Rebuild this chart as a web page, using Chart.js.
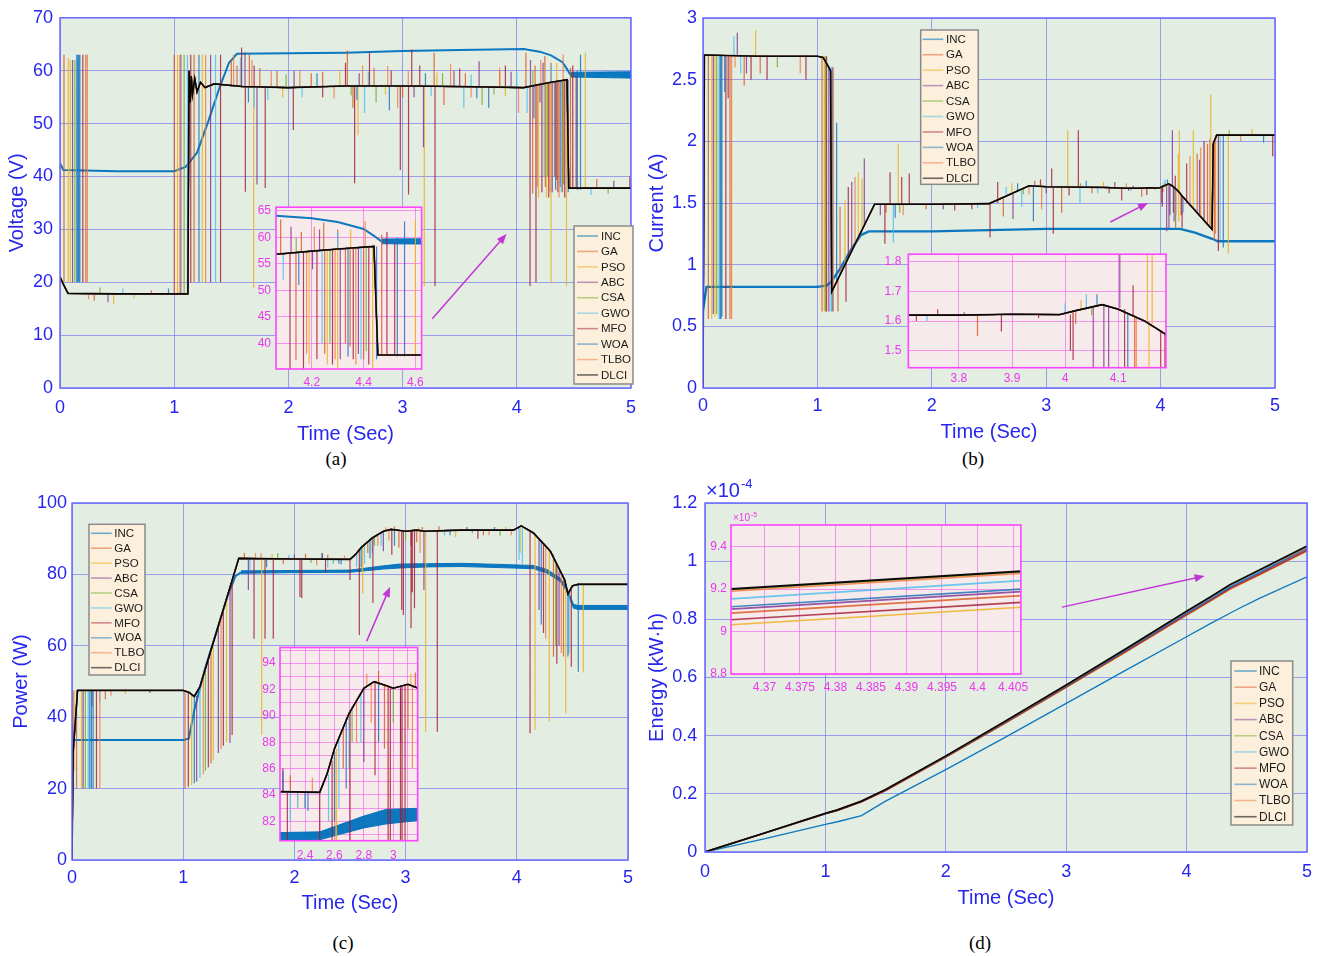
<!DOCTYPE html>
<html>
<head>
<meta charset="utf-8">
<title>MPPT comparison</title>
<script src="https://cdn.jsdelivr.net/npm/chart.js@4.4.1/dist/chart.umd.min.js"></script>
<style>
  body { margin: 0; background: #fff; }
  #page { position: relative; width: 1325px; height: 956px; overflow: hidden; }
  canvas { position: absolute; }
  .cap { position: absolute; width: 60px; margin-left: -30px; text-align: center;
         font: 19px "Liberation Serif", "Times New Roman", serif; color: #000; }
</style>
</head>
<body>
<div id="page">
  <canvas id="mainA" width="645" height="446" style="left:0;top:0"></canvas>
  <canvas id="mainB" width="680" height="444" style="left:645px;top:0"></canvas>
  <canvas id="mainC" width="645" height="445" style="left:0;top:470px"></canvas>
  <canvas id="mainD" width="680" height="440" style="left:645px;top:470px"></canvas>
  <canvas id="insetA" width="180" height="195" style="left:250px;top:195px"></canvas>
  <canvas id="insetB" width="300" height="150" style="left:875px;top:240px"></canvas>
  <canvas id="insetC" width="175" height="232" style="left:250px;top:636px"></canvas>
  <canvas id="insetD" width="335" height="200" style="left:700px;top:500px"></canvas>
  <div class="cap" style="left:336px;top:448px">(a)</div>
  <div class="cap" style="left:973px;top:448px">(b)</div>
  <div class="cap" style="left:343px;top:932px">(c)</div>
  <div class="cap" style="left:980px;top:932px">(d)</div>
</div>
<script>
// ---- series names / colours ----
const algoNames = ['INC', 'GA', 'PSO', 'ABC', 'CSA', 'GWO', 'MFO', 'WOA', 'TLBO', 'DLCI'];
const algoColors = ['rgba(0,114,189,0.95)', 'rgba(217,83,25,0.8)', 'rgba(237,177,32,0.85)',
  'rgba(126,47,142,0.8)', 'rgba(119,172,48,0.85)', 'rgba(77,190,238,0.85)', 'rgba(162,20,47,0.8)',
  'rgba(20,110,185,0.8)', 'rgba(240,120,60,0.8)', 'rgba(0,0,0,0.95)'];

const timeTicks = [0, 1, 2, 3, 4, 5];
const voltTicks = [0, 10, 20, 30, 40, 50, 60, 70];
const currTicks = [0, 0.5, 1, 1.5, 2, 2.5, 3];
const powTicks = [0, 20, 40, 60, 80, 100];
const energyTicks = [0, 0.2, 0.4, 0.6, 0.8, 1, 1.2];

// ---- (a) voltage [t, V]; spikes are [t, from, to] ----
const voltInc = [[0,42.5],[0.03,41.2],[0.5,41],[1.0,41],[1.1,41.8],[1.2,44.5],[1.3,50.5],[1.4,57],[1.48,61.5],[1.55,63.2],[2.0,63.3],[2.5,63.4],[3.0,63.7],[3.5,63.9],[4.06,64.1],[4.2,63.6],[4.3,62.9],[4.4,61.6],[4.44,60.3],[4.47,59.2]];
const voltIncHi = [[4.47,59.7],[5,59.8]];
const voltIncLo = [[4.47,58.8],[5,58.6]];
const voltDlci = [[0,21],[0.03,19.6],[0.07,17.9],[0.5,17.8],[1.12,17.8],[1.13,60],[1.14,54],[1.15,59],[1.16,55.5],[1.18,58.5],[1.2,56],[1.23,57.8],[1.27,56.8],[1.35,57.5],[1.6,57],[2.0,56.8],[2.5,57.1],[3.0,57.1],[3.5,57],[4.06,56.8],[4.2,57.4],[4.3,57.8],[4.44,58.3],[4.455,37.8],[5,37.8]];
const voltGA = [[0.035,20,63],[0.226,20,63],[1.0,17.8,63],[1.174,20,63],[1.5,57,62],[1.55,57,61],[1.658,57,63],[1.75,57,60.5],[1.9,57,60],[2.2,57,59.5],[2.3,57,59.8],[2.516,57,63.8],[2.565,57,53],[2.75,57,60.5],[3.0,57,55],[3.276,57,63.4],[3.362,57,53.5],[3.55,57,59.5],[3.85,57,60],[4.08,57,63.4],[4.139,57.3,36.8],[4.16,57.3,61],[4.246,57.6,62.8],[4.25,57.6,38],[4.3,57.8,61.5],[4.33,58,40],[4.348,58,39.4],[4.4,58.2,37],[4.47,37.8,60.5],[4.7,37.8,39.5],[0.3,17.8,16.5],[0.8,17.8,18.5]];
const voltPSO = [[0.072,20,62.5],[0.09,20,62],[1.029,17.8,63],[1.246,20,63],[1.696,57,18.8],[1.95,57,55],[2.45,57,60.2],[2.609,57,47.8],[2.85,57,55.5],[3.19,57,19.3],[3.3,57,59.6],[3.9,57,55.2],[4.19,57.4,36],[4.26,57.7,36],[4.3,57.8,19.8],[4.35,58,61.5],[4.435,58.3,19.3],[4.6,37.8,63.4],[0.47,17.8,15.8],[0.65,17.8,17]];
const voltABC = [[0.11,20,62],[1.058,17.8,63],[1.319,20,63],[1.62,57,63.5],[1.725,57,38.5],[2.05,57,60],[2.62,57,59.5],[3.1,57,55],[3.183,57,45.5],[3.45,57,60],[3.67,57,61.8],[3.95,57,59.8],[4.12,57.2,62],[4.203,57.5,54],[4.23,57.5,61.5],[4.31,57.9,37],[4.38,58.1,38],[0.42,17.8,16.2],[4.85,37.8,39.2]];
const voltCSA = [[0.13,20,62],[1.087,17.8,63],[1.98,57,59.3],[2.55,57,55.3],[2.768,57,54],[3.35,57,59.5],[3.696,57,53.5],[3.8,57,55.5],[4.14,57.3,60],[4.27,57.7,40],[4.41,58.2,38.5],[0.35,17.8,19],[4.8,37.8,36.8]];
const voltGWO = [[0.145,20,63],[1.116,17.8,63],[1.362,20,63],[1.58,57,62.5],[1.7,57,53],[1.82,57,54.5],[2.12,57,55],[2.667,57,52],[2.7,57,59.8],[3.25,57,55.2],[3.536,57,53],[3.6,57,59.3],[4.0,57,59.6],[4.09,57.2,52],[4.24,57.6,40],[4.3,57.8,61],[4.39,58.1,37],[0.55,17.8,18.8],[4.65,37.8,36.5]];
const voltMFO = [[0.2,20,63],[1.145,20,63],[1.406,20,63],[1.59,57,64.4],[1.623,57,37.1],[1.7,57,61],[1.797,57,37.8],[2.043,57,48.8],[2.3,57,55],[2.5,57,61.5],[2.58,57,38.7],[2.71,57,63.4],[2.9,57,60],[2.98,57,41.2],[3.052,57,36.6],[3.08,57,64],[3.15,57,61],[3.284,57,19.3],[3.5,57,60.4],[3.9,57,61],[4.116,57.2,19.3],[4.168,57.4,20],[4.22,57.5,37],[4.28,57.8,36],[4.36,58,37],[4.42,58.2,36],[4.49,37.8,61],[4.52,37.8,59],[4.99,37.8,40]];
const voltWOA = [[0.15,20,63],[0.158,20,63],[0.166,20,63],[0.174,20,63],[1.217,20,63],[1.65,57,54],[2.25,57,59.5],[2.6,57,54.5],[2.884,57,52.5],[3.2,57,59.5],[3.65,57,54.8],[3.754,57,53],[4.15,57.3,51],[4.34,57.9,37.5],[4.45,58.3,37],[4.53,37.5,60],[4.558,37.5,63],[0.95,17.8,18.8]];
const voltTLBO = [[0.24,20,63],[1.05,17.8,63],[1.275,20,63],[1.52,57,63],[1.68,57,62],[1.85,57,60],[2.1,57,60.2],[2.4,57,54.8],[2.65,57,61],[2.87,57,60.9],[2.957,57,53],[3.05,57,60],[3.42,57,61.3],[3.6,57,55],[3.85,57,60.6],[4.015,57,52],[4.18,57.4,38],[4.21,57.5,62],[4.29,57.8,37],[4.37,58.1,36],[4.406,58.2,63.1],[0.25,17.8,16.8]];

// ---- (b) current [t, A] ----
const currInc = [[0,0.63],[0.03,0.82],[1.0,0.82],[1.08,0.83],[1.12,0.86],[1.2,0.97],[1.3,1.13],[1.38,1.24],[1.45,1.27],[2.0,1.27],[2.5,1.28],[3.0,1.29],[3.5,1.29],[4.17,1.29],[4.3,1.26],[4.45,1.21],[4.5,1.19],[5,1.19]];
const currDlci = [[0,0],[0.012,2.7],[0.5,2.69],[1.0,2.69],[1.05,2.68],[1.1,2.6],[1.115,2.57],[1.125,0.78],[1.5,1.49],[2.0,1.49],[2.5,1.495],[2.55,1.515],[2.85,1.64],[3.0,1.632],[3.5,1.626],[3.7,1.62],[3.8,1.62],[3.9,1.623],[3.99,1.622],[4.02,1.635],[4.07,1.655],[4.1,1.64],[4.15,1.6],[4.19,1.555],[4.45,1.285],[4.46,1.98],[4.49,2.05],[5,2.05]];
const currGA = [[0.047,2.7,0.56],[0.236,2.7,0.56],[0.36,2.7,2.45],[0.5,2.7,2.55],[1.04,2.69,0.62],[1.18,0.88,0.62],[1.198,0.93,1.47],[1.6,1.49,1.42],[1.95,1.49,1.45],[2.625,1.55,1.39],[2.9,1.63,1.68],[3.135,1.63,1.42],[3.4,1.626,1.58],[3.835,1.62,1.55],[4.02,1.63,1.59],[4.131,1.62,1.3],[4.32,1.42,1.9],[4.41,1.33,1.98],[4.47,2.0,1.2]];
const currPSO = [[0.076,2.7,0.56],[0.105,2.7,0.58],[0.46,2.7,2.9],[1.06,2.69,0.62],[1.241,1.0,1.52],[1.358,1.23,1.75],[1.39,1.3,1.7],[1.707,1.49,1.98],[2.7,1.59,1.66],[3.188,1.63,2.09],[3.5,1.626,1.67],[4.03,1.635,1.67],[4.155,1.6,1.9],[4.158,1.6,1.35],[4.164,1.59,2.09],[4.286,1.45,2.09],[4.438,1.3,2.38],[4.592,2.05,1.09],[4.8,2.05,2.1]];
const currABC = [[0.09,2.7,0.6],[0.3,2.7,2.88],[0.38,2.7,2.55],[1.1,2.6,0.62],[1.3,1.12,1.67],[1.41,1.33,1.86],[1.55,1.49,1.4],[2.1,1.49,1.45],[2.71,1.58,1.37],[3.0,1.632,1.58],[3.6,1.624,1.67],[3.81,1.62,1.63],[4.053,1.645,1.27],[4.073,1.655,1.3],[4.082,1.65,1.4],[4.103,1.645,2.09],[4.34,1.4,1.85]];
const currCSA = [[0.12,2.7,0.6],[0.65,2.7,2.6],[1.07,2.69,0.62],[1.72,1.49,1.42],[2.8,1.62,1.57],[3.3,1.628,1.66],[4.05,1.645,1.62],[4.6,2.05,2.09]];
const currGWO = [[0.14,2.7,0.56],[0.27,2.7,2.85],[0.33,2.7,2.55],[1.12,2.6,0.62],[1.664,1.49,1.18],[2.4,1.49,1.46],[2.65,1.57,1.63],[2.786,1.61,1.47],[3.295,1.63,1.5],[3.45,1.626,1.58],[3.74,1.62,1.6],[4.0,1.625,1.66],[4.04,1.64,1.69],[4.2,1.545,1.42],[4.52,2.05,1.2]];
const currMFO = [[0.2,2.7,0.56],[0.22,2.7,2.35],[0.42,2.7,2.5],[0.56,2.7,2.5],[0.9,2.7,2.5],[1.08,2.69,0.62],[1.25,1.02,0.7],[1.27,1.06,1.63],[1.59,1.49,1.17],[1.635,1.49,1.75],[1.737,1.49,1.71],[1.803,1.49,1.74],[2.2,1.49,1.44],[2.35,1.49,1.45],[2.509,1.5,1.22],[2.576,1.5,1.67],[2.95,1.632,1.69],[3.048,1.63,1.78],[3.062,1.63,1.25],[3.2,1.63,1.56],[3.281,1.63,2.09],[3.55,1.625,1.58],[3.66,1.622,1.52],[3.72,1.62,1.6],[3.76,1.62,1.64],[3.88,1.622,1.565],[3.95,1.622,1.61],[4.01,1.622,1.5],[4.015,1.63,1.47],[4.112,1.64,1.42],[4.128,1.62,1.72],[4.18,1.57,1.4],[4.188,1.56,1.3],[4.228,1.5,1.82],[4.38,1.36,2.0],[4.505,2.05,1.11],[4.98,2.05,1.88]];
const currWOA = [[0.15,2.7,0.56],[0.158,2.7,0.56],[0.165,2.7,0.58],[0.19,2.7,2.4],[1.13,2.6,0.62],[1.168,0.86,2.15],[1.68,1.49,1.38],[2.75,1.6,1.66],[2.888,1.63,1.35],[3.35,1.627,1.68],[4.06,1.65,1.69],[4.118,1.63,1.35],[4.548,2.05,1.14],[4.9,2.05,1.99]];
const currTLBO = [[0.25,2.7,0.56],[0.28,2.7,2.6],[0.85,2.7,2.55],[1.14,2.6,0.62],[1.329,1.17,1.71],[1.75,1.49,1.4],[2.85,1.63,1.57],[2.96,1.625,1.45],[3.7,1.62,1.66],[4.134,1.61,1.4],[4.257,1.47,1.88],[4.35,1.39,1.95],[4.43,1.31,2.02],[4.48,2.05,1.25],[4.7,2.05,2.0]];

// ---- (c) power [t, W] ----
const powInc = [[0,38],[0.015,33.6],[1.0,33.6],[1.05,34],[1.1,42],[1.15,48],[1.2,54],[1.3,64],[1.4,74],[1.47,79.5],[1.52,80.6]];
const powIncHi = [[1.52,81],[2.0,81.1],[2.5,81.2],[2.6,81.6],[2.8,82.4],[2.95,82.9],[3.2,83.0],[3.5,83.1],[3.85,82.8],[4.15,82.5],[4.27,81.4],[4.39,79.0],[4.45,76.2],[4.51,71.6],[4.55,71.3],[5,71.3]];
const powIncLo = [[1.52,80.3],[2.0,80.5],[2.5,80.6],[2.6,80.9],[2.8,81.5],[2.95,81.8],[3.2,82.1],[3.5,82.2],[3.85,81.9],[4.15,81.6],[4.27,80.4],[4.39,78.0],[4.45,75.2],[4.51,70.5],[4.55,70.2],[5,70.2]];
const powDlci = [[0,0],[0.01,30],[0.05,47.5],[1.0,47.5],[1.05,47],[1.1,45.8],[1.15,48.5],[1.5,84.5],[2.0,84.3],[2.5,84.2],[2.55,85.6],[2.6,87.5],[2.7,90.2],[2.8,92.1],[2.87,92.6],[2.95,92.3],[3.0,92.1],[3.1,92.4],[3.17,92.1],[3.5,92.4],[3.97,92.4],[4.04,93.6],[4.15,91.6],[4.3,86.6],[4.43,78.5],[4.46,74.5],[4.5,76.8],[4.55,77.2],[5,77.2]];
const powGA = [[0.041,47.5,20],[0.01,20,47.5],[1.016,47.5,20],[1.25,58,27],[1.55,84.5,86],[1.9,84.3,83],[2.1,84.3,85.8],[2.3,84.2,85.5],[2.66,89.2,86],[2.94,92.4,87.5],[2.9,92.5,93.4],[3.1,92.4,89],[3.15,92.2,93.3],[3.3,92.4,93.5],[3.7,92.4,91],[4.33,85.6,56.9],[4.42,79,57],[0.3,47.5,45]];
const powPSO = [[0.086,47.5,20],[0.02,25,47.5],[1.076,46.5,21],[1.271,61,28],[1.39,73,33],[1.706,84.5,35],[1.8,84.4,85.7],[2.35,84.2,83],[2.614,87.5,74.7],[2.61,87.3,80.5],[3.12,92.3,93.2],[3.18,92.2,35.9],[3.45,92.4,90.5],[3.9,92.4,93.4],[4.03,93.2,86],[4.164,91.1,36.4],[4.292,86.9,38.7],[4.44,78,41.1],[4.598,77.2,52.5],[0.48,47.5,46.5]];
const powABC = [[0.1,47.5,20],[1.121,46,22],[1.316,65.5,30],[1.421,76,32.8],[1.586,84.5,75.6],[2.0,84.3,85.6],[2.8,92.1,86.5],[3.05,92.3,88],[3.165,92.2,75.6],[3.55,92.4,93.3],[4.2,90,70],[4.38,81,60],[0.7,47.5,46.8]];
const powCSA = [[0.12,47.5,20],[1.2,53,25],[1.85,84.4,86],[2.15,84.3,83.2],[2.72,90.7,88],[3.0,92.2,89.5],[3.6,92.4,91.5],[3.85,92.4,90.8],[4.35,84,60]];
const powGWO = [[0.146,47.5,20],[1.151,49,23],[1.6,84.5,81],[1.95,84.3,85.5],[2.3,84.2,82],[2.35,84.2,83],[2.56,85.6,82],[2.63,88.3,83],[2.7,90.2,86],[2.78,91.8,88],[3.35,92.4,91],[4.02,93,84],[4.05,93.5,83],[4.47,75,58],[0.25,47.5,44]];
const powMFO = [[0.22,47.5,20],[1.046,47,20.5],[1.226,56.5,26],[1.361,70,32],[1.44,78,35],[1.637,84.5,62],[1.736,84.5,62],[1.81,84.5,62],[2.05,84.3,73.7],[2.066,84.3,73.3],[2.25,84.2,86],[2.28,84.2,80.6],[2.5,84.2,78.4],[2.584,86.6,63],[2.706,90.4,72],[2.876,92.6,85.5],[2.965,92.3,70],[2.98,92.1,68.6],[3.049,92.1,64.9],[3.06,92.2,75],[3.08,92.3,70.5],[3.285,92.4,35.9],[3.65,92.4,90],[4.119,91.9,35.5],[4.24,88.6,63.6],[4.36,83,55],[4.49,76.5,54.1],[0.18,47.5,43]];
const powWOA = [[0.16,47.5,20],[0.175,47.5,20],[0.19,47.5,20],[1.1,45.8,21.5],[1.75,84.5,82],[2.25,84.2,85.8],[2.4,84.2,83],[2.42,84.2,82.8],[2.6,87.5,82],[2.68,89.8,84.5],[2.9,92.5,88],[3.4,92.4,91],[3.8,92.4,93.3],[4.22,89.3,66],[4.46,74.5,57],[4.553,77.2,52.7]];
const powTLBO = [[0.25,47.5,20],[1.181,52,24],[1.34,68,31],[1.65,84.5,86],[1.7,84.5,85.9],[2.2,84.3,82.5],[2.45,84.2,85.3],[2.75,91.3,88],[2.82,92.2,93.2],[2.85,92.5,89.5],[3.13,92.3,86],[3.75,92.4,91],[3.95,92.5,91],[4.26,88,62],[4.4,80,58],[0.35,47.5,46]];

// ---- (d) energy, x1e-4 kW.h ----
const energyTime = [0, 0.5, 1, 1.1, 1.3, 1.5, 2, 2.5, 3, 3.5, 4, 4.2, 4.36, 4.41, 4.6, 5];
const energyINC  = [0, 0.046, 0.095, 0.104, 0.125, 0.175, 0.283, 0.396, 0.511, 0.626, 0.740, 0.786, 0.821, 0.832, 0.871, 0.946];
const energyGA   = [0, 0.066, 0.132, 0.143, 0.173, 0.212, 0.327, 0.447, 0.569, 0.693, 0.818, 0.867, 0.9076, 0.9177, 0.956, 1.038];
const energyPSO  = [0, 0.065, 0.131, 0.142, 0.172, 0.211, 0.325, 0.444, 0.565, 0.688, 0.813, 0.862, 0.9021, 0.9122, 0.951, 1.034];
const energyABC  = [0, 0.066, 0.132, 0.144, 0.174, 0.213, 0.328, 0.448, 0.570, 0.694, 0.820, 0.869, 0.9095, 0.9196, 0.959, 1.043];
const energyCSA  = [0, 0.066, 0.133, 0.145, 0.175, 0.215, 0.330, 0.451, 0.574, 0.700, 0.828, 0.877, 0.9186, 0.9289, 0.968, 1.050];
const energyGWO  = [0, 0.066, 0.132, 0.144, 0.174, 0.214, 0.329, 0.449, 0.572, 0.697, 0.824, 0.874, 0.9143, 0.9248, 0.964, 1.046];
const energyMFO  = [0, 0.066, 0.131, 0.142, 0.172, 0.211, 0.326, 0.445, 0.567, 0.690, 0.815, 0.864, 0.9045, 0.9145, 0.953, 1.036];
const energyWOA  = [0, 0.066, 0.132, 0.144, 0.174, 0.214, 0.328, 0.448, 0.570, 0.695, 0.821, 0.870, 0.9106, 0.9208, 0.960, 1.044];
const energyTLBO = [0, 0.066, 0.133, 0.145, 0.175, 0.214, 0.329, 0.450, 0.573, 0.699, 0.826, 0.876, 0.9179, 0.9282, 0.967, 1.047];
const energyDLCI = [0, 0.066, 0.133, 0.145, 0.175, 0.215, 0.330, 0.451, 0.574, 0.700, 0.828, 0.878, 0.9189, 0.9292, 0.969, 1.052];

// ---- look ----
const FONT = '"Liberation Sans", Arial, Helvetica, sans-serif';
Chart.defaults.font.family = FONT;
const AXIS_BLUE = '#2626ee';
const GRID_BLUE = 'rgba(80,80,245,0.5)';
const FRAME_BLUE = '#6a6aff';
const PLOT_BG = '#e3ede2';
const INSET_BG = '#f6eaea';
const INSET_GRID = 'rgba(240,90,240,0.6)';
const INSET_FRAME = '#ff45ff';
const INSET_TEXT = '#ee36ee';

const fmt = v => String(parseFloat(Number(v).toFixed(4)));
const labelOnly = list => v => list.some(u => Math.abs(u - v) < 1e-9) ? fmt(v) : '';

function pts(list) { return list.map(p => ({ x: p[0], y: p[1] })); }

function withSpikes(base, spikes) {
  const out = pts(base);
  spikes.forEach(s => { out.push({ x: s[0], y: null }, { x: s[0], y: s[1] }, { x: s[0], y: s[2] }); });
  return out;
}

function lineSet(data, idx, width) {
  return { label: algoNames[idx], data, borderColor: algoColors[idx], borderWidth: width,
           pointRadius: 0, fill: false, tension: 0, spanGaps: false };
}

// chart.js paints index 0 on top unless told otherwise: keep DLCI (last) on top
function stackUp(sets) {
  sets.forEach((s, i) => { s.order = sets.length - i; });
  return sets;
}

function traceSets(p) {
  const sets = [lineSet(pts(p.inc), 0, p.incWidth)];
  if (p.incHi) {
    sets.push(lineSet(pts(p.incHi), 0, 1));
    sets.push(Object.assign(lineSet(pts(p.incLo), 0, 1), { fill: '-1', backgroundColor: algoColors[0] }));
  }
  p.spikes.forEach((sp, i) => sets.push(lineSet(withSpikes(p.base, sp), i + 1, p.width)));
  sets.push(lineSet(pts(p.dlci), 9, 1.6));
  return stackUp(sets);
}

function energySets(width) {
  const cols = [energyINC, energyGA, energyPSO, energyABC, energyCSA, energyGWO, energyMFO, energyWOA, energyTLBO, energyDLCI];
  return stackUp(cols.map((vals, i) => lineSet(pts(energyTime.map((t, k) => [t, vals[k]])), i, i === 9 ? width + 0.4 : width)));
}

const voltData = () => traceSets({ inc: voltInc, incHi: voltIncHi, incLo: voltIncLo, dlci: voltDlci, base: voltDlci,
  spikes: [voltGA, voltPSO, voltABC, voltCSA, voltGWO, voltMFO, voltWOA, voltTLBO], incWidth: 2, width: 1.2 });
const currData = () => traceSets({ inc: currInc, dlci: currDlci, base: currDlci,
  spikes: [currGA, currPSO, currABC, currCSA, currGWO, currMFO, currWOA, currTLBO], incWidth: 2.4, width: 1.2 });
const powData = () => traceSets({ inc: powInc, incHi: powIncHi, incLo: powIncLo, dlci: powDlci, base: powDlci,
  spikes: [powGA, powPSO, powABC, powCSA, powGWO, powMFO, powWOA, powTLBO], incWidth: 2, width: 1.2 });

// ---- plugins ----
const plotFrame = {
  id: 'plotFrame',
  beforeDraw(chart, args, o) {
    const { ctx, chartArea: a } = chart;
    ctx.save();
    ctx.fillStyle = o.bg;
    ctx.fillRect(a.left, a.top, a.width, a.height);
    ctx.restore();
  },
  afterDatasetsDraw(chart, args, o) {
    const { ctx, chartArea: a } = chart;
    ctx.save();
    ctx.strokeStyle = o.edge;
    ctx.lineWidth = o.width;
    ctx.strokeRect(a.left, a.top, a.width, a.height);
    if (o.exponent) {
      const e = o.exponent;
      ctx.fillStyle = e.color;
      ctx.textBaseline = 'alphabetic';
      ctx.font = e.size + 'px ' + FONT;
      const x = a.left + e.dx, y = a.top + e.dy;
      ctx.fillText('\u00d710', x, y);
      const w = ctx.measureText('\u00d710').width;
      ctx.font = e.supSize + 'px ' + FONT;
      ctx.fillText(e.sup, x + w + 1, y - e.size * 0.45);
    }
    ctx.restore();
  }
};

const boxLegend = {
  id: 'boxLegend',
  afterDraw(chart, args, o) {
    if (!o.box) return;
    const ctx = chart.ctx;
    const [bx, by, bw, bh] = o.box;
    ctx.save();
    ctx.fillStyle = '#fcf0dc';
    ctx.fillRect(bx, by, bw, bh);
    ctx.strokeStyle = '#8a8a8a';
    ctx.lineWidth = 1.5;
    ctx.strokeRect(bx, by, bw, bh);
    ctx.font = o.size + 'px ' + FONT;
    ctx.textBaseline = 'middle';
    algoNames.forEach((name, i) => {
      const y = o.firstRow + i * o.rowGap;
      ctx.globalAlpha = 0.6;
      ctx.strokeStyle = algoColors[i];
      ctx.lineWidth = 1.6;
      ctx.beginPath();
      ctx.moveTo(o.line[0], y);
      ctx.lineTo(o.line[1], y);
      ctx.stroke();
      ctx.globalAlpha = 1;
      ctx.fillStyle = '#1a1a1a';
      ctx.fillText(name, o.textX, y + 0.5);
    });
    ctx.restore();
  }
};

const pointerArrow = {
  id: 'pointerArrow',
  afterDatasetsDraw(chart, args, o) {
    if (!o.from) return;
    const xs = chart.scales.x, ys = chart.scales.y, ctx = chart.ctx;
    const x0 = xs.getPixelForValue(o.from[0]), y0 = ys.getPixelForValue(o.from[1]);
    const x1 = xs.getPixelForValue(o.to[0]), y1 = ys.getPixelForValue(o.to[1]);
    const ang = Math.atan2(y1 - y0, x1 - x0);
    ctx.save();
    ctx.strokeStyle = '#c236d6';
    ctx.fillStyle = '#c236d6';
    ctx.lineWidth = 1.5;
    ctx.beginPath();
    ctx.moveTo(x0, y0);
    ctx.lineTo(x1 - 6 * Math.cos(ang), y1 - 6 * Math.sin(ang));
    ctx.stroke();
    ctx.beginPath();
    ctx.moveTo(x1, y1);
    ctx.lineTo(x1 - 10 * Math.cos(ang) + 4 * Math.sin(ang), y1 - 10 * Math.sin(ang) - 4 * Math.cos(ang));
    ctx.lineTo(x1 - 10 * Math.cos(ang) - 4 * Math.sin(ang), y1 - 10 * Math.sin(ang) + 4 * Math.cos(ang));
    ctx.closePath();
    ctx.fill();
    ctx.restore();
  }
};

// ---- chart builders ----
function mainChart(id, c) {
  return new Chart(document.getElementById(id), {
    type: 'line',
    data: { datasets: c.datasets },
    plugins: [plotFrame, boxLegend, pointerArrow],
    options: {
      responsive: false, animation: false, events: [],
      layout: { padding: { top: c.padTop, right: c.padRight, left: 0, bottom: 0 } },
      plugins: {
        legend: { display: false }, tooltip: { enabled: false },
        plotFrame: { bg: PLOT_BG, edge: FRAME_BLUE, width: 1.5, exponent: c.exponent },
        boxLegend: c.legend,
        pointerArrow: c.arrow
      },
      scales: {
        x: {
          type: 'linear', min: 0, max: 5, bounds: 'data',
          afterBuildTicks: s => { s.ticks = timeTicks.map(v => ({ value: v })); },
          afterFit: s => { s.height = c.xAxisH; },
          grid: { color: GRID_BLUE, drawTicks: false },
          border: { display: false },
          ticks: { color: AXIS_BLUE, font: { size: 18 }, padding: c.xPad, maxRotation: 0, autoSkip: false, callback: fmt },
          title: { display: true, text: 'Time (Sec)', color: AXIS_BLUE, font: { size: 20 }, padding: 0 }
        },
        y: {
          type: 'linear', min: c.yMin, max: c.yMax, bounds: 'data',
          afterBuildTicks: s => { s.ticks = c.yTicks.map(v => ({ value: v })); },
          afterFit: s => { s.width = c.yAxisW; },
          grid: { color: GRID_BLUE, drawTicks: false },
          border: { display: false },
          ticks: { color: AXIS_BLUE, font: { size: 18 }, padding: c.yPad, autoSkip: false, callback: fmt },
          title: { display: true, text: c.yTitle, color: AXIS_BLUE, font: { size: 20 }, padding: { top: c.titlePad, bottom: 0 } }
        }
      }
    }
  });
}

function insetChart(id, c) {
  return new Chart(document.getElementById(id), {
    type: 'line',
    data: { datasets: c.datasets },
    plugins: [plotFrame],
    options: {
      responsive: false, animation: false, events: [],
      layout: { padding: { top: c.padTop, right: c.padRight, left: 0, bottom: 0 } },
      plugins: {
        legend: { display: false }, tooltip: { enabled: false },
        plotFrame: { bg: INSET_BG, edge: INSET_FRAME, width: 1.6, exponent: c.exponent }
      },
      scales: {
        x: {
          type: 'linear', min: c.xMin, max: c.xMax, bounds: 'data',
          afterBuildTicks: s => { s.ticks = c.xTicks.map(v => ({ value: v })); },
          afterFit: s => { s.height = c.xAxisH; },
          grid: { color: INSET_GRID, drawTicks: false },
          border: { display: false },
          ticks: { color: INSET_TEXT, font: { size: 12 }, padding: c.xPad, maxRotation: 0, autoSkip: false, callback: c.xLabel || fmt }
        },
        y: {
          type: 'linear', min: c.yMin, max: c.yMax, bounds: 'data',
          afterBuildTicks: s => { s.ticks = c.yTicks.map(v => ({ value: v })); },
          afterFit: s => { s.width = c.yAxisW; },
          grid: { color: INSET_GRID, drawTicks: false },
          border: { display: false },
          ticks: { color: INSET_TEXT, font: { size: 12 }, padding: c.yPad, autoSkip: false, callback: c.yLabel || fmt }
        }
      }
    }
  });
}

// ---- (a) ----
mainChart('mainA', {
  datasets: voltData(), yMin: 0, yMax: 70, yTicks: voltTicks, yTitle: 'Voltage (V)',
  padTop: 15, padRight: 10, yAxisW: 60, xAxisH: 58, xPad: 9, yPad: 7, titlePad: 5.5,
  legend: { box: [574, 226, 59, 158], firstRow: 236, rowGap: 15.44, line: [577, 598], textX: 601, size: 11.5 },
  arrow: { from: [3.26, 13.1], to: [3.91, 29.1] }
});
insetChart('insetA', {
  datasets: voltData(), xMin: 4.062, xMax: 4.624, yMin: 35.15, yMax: 65.7,
  xTicks: [4.2, 4.4, 4.6], yTicks: [40, 45, 50, 55, 60, 65],
  padTop: 6, padRight: 5.3, yAxisW: 26, xAxisH: 21, xPad: 6, yPad: 5
});

// ---- (b) ----
mainChart('mainB', {
  datasets: currData(), yMin: 0, yMax: 3, yTicks: currTicks, yTitle: 'Current (A)',
  padTop: 18, padRight: 50, yAxisW: 58, xAxisH: 56, xPad: 7, yPad: 6, titlePad: 0,
  legend: { box: [275.7, 30, 57.6, 154.3], firstRow: 39.3, rowGap: 15.44, line: [277.7, 298.3], textX: 301, size: 11.5 },
  arrow: { from: [3.56, 1.346], to: [3.89, 1.5] }
});
insetChart('insetB', {
  datasets: currData(), xMin: 3.7047, xMax: 4.19, yMin: 1.444, yMax: 1.824,
  xTicks: [3.8, 3.9, 4, 4.1], yTicks: [1.5, 1.6, 1.7, 1.8],
  padTop: 7.3, padRight: 9, yAxisW: 33.3, xAxisH: 22.3, xPad: 4, yPad: 7
});

// ---- (c) ----
mainChart('mainC', {
  datasets: powData(), yMin: 0, yMax: 100, yTicks: powTicks, yTitle: 'Power (W)',
  padTop: 33, padRight: 17, yAxisW: 72, xAxisH: 55, xPad: 7.5, yPad: 5, titlePad: 9.7,
  legend: { box: [89, 54.3, 56, 150.7], firstRow: 63.3, rowGap: 14.93, line: [91, 111.7], textX: 114.3, size: 11.5 },
  arrow: { from: [2.65, 61.3], to: [2.86, 76.5] }
});
insetChart('insetC', {
  datasets: powData(), xMin: 2.23, xMax: 3.166, yMin: 80.53, yMax: 95.19,
  xTicks: [2.3, 2.4, 2.5, 2.6, 2.7, 2.8, 2.9, 3.0, 3.1], yTicks: [81, 82, 83, 84, 85, 86, 87, 88, 89, 90, 91, 92, 93, 94, 95],
  xLabel: labelOnly([2.4, 2.6, 2.8, 3]), yLabel: labelOnly([82, 84, 86, 88, 90, 92, 94]),
  padTop: 8, padRight: 7.3, yAxisW: 30, xAxisH: 27.3, xPad: 7.7, yPad: 4.3
});

// ---- (d) ----
mainChart('mainD', {
  datasets: energySets(1.3), yMin: 0, yMax: 1.2, yTicks: energyTicks, yTitle: 'Energy (kW\u00b7h)',
  padTop: 33, padRight: 18, yAxisW: 60, xAxisH: 58, xPad: 9, yPad: 7.7, titlePad: 0,
  exponent: { sup: '-4', size: 20, supSize: 13, color: AXIS_BLUE, dx: 1, dy: -6 },
  legend: { box: [586, 191, 61.7, 164], firstRow: 201, rowGap: 16.19, line: [589.3, 611.7], textX: 614, size: 12 },
  arrow: { from: [2.965, 0.842], to: [4.15, 0.949] }
});
insetChart('insetD', {
  datasets: energySets(1.6), xMin: 4.3653, xMax: 4.4061, yMin: 0.88, yMax: 0.9502,
  xTicks: [4.37, 4.375, 4.38, 4.385, 4.39, 4.395, 4.4, 4.405], yTicks: [0.88, 0.9, 0.92, 0.94],
  yLabel: v => fmt(v * 10),
  exponent: { sup: '-5', size: 10, supSize: 7, color: INSET_TEXT, dx: 2, dy: -4 },
  padTop: 25, padRight: 9, yAxisW: 31, xAxisH: 26, xPad: 6.7, yPad: 4
});
</script>
</body>
</html>
